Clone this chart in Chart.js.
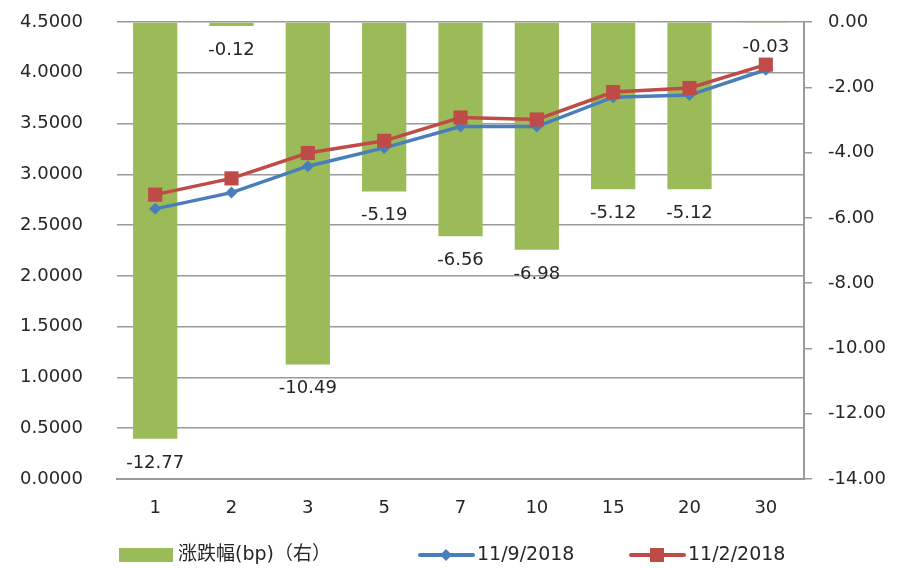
<!DOCTYPE html>
<html>
<head>
<meta charset="utf-8">
<script src="https://cdn.jsdelivr.net/npm/chart.js@4.4.1/dist/chart.umd.min.js"></script>
<style>
    html, body { margin: 0; padding: 0; background: #fff; }
    #wrap { width: 902px; height: 568px; position: relative; }
</style>
</head>
<body>
<div id="wrap"><canvas id="chart"></canvas></div>
<script>
// 期限 (年)
const categories = ['1', '2', '3', '5', '7', '10', '15', '20', '30'];
// 涨跌幅 (bp), 右轴
const changeBp = [-12.77, -0.12, -10.49, -5.19, -6.56, -6.98, -5.12, -5.12, -0.03];
// 收益率, 左轴
const yield1109 = [2.66, 2.82, 3.08, 3.26, 3.47, 3.47, 3.76, 3.78, 4.03];
const yield1102 = [2.80, 2.96, 3.21, 3.33, 3.56, 3.54, 3.81, 3.85, 4.08];

const labelBar = '涨跌幅(bp)（右）';
const label1109 = '11/9/2018';
const label1102 = '11/2/2018';

const GREEN = '#9BBB59';
const BLUE = '#4A7EBB';
const RED = '#BE4B48';
const GRID = '#9a9a9a';
const TEXT = '#262626';
const FONT = '"DejaVu Sans", "Noto Sans CJK SC", sans-serif';

// value labels under the bar ends
const barLabels = {
    id: 'barLabels',
    afterDatasetsDraw(chart) {
        const ctx = chart.ctx;
        const meta = chart.getDatasetMeta(0);
        ctx.save();
        ctx.font = '18px ' + FONT;
        ctx.fillStyle = TEXT;
        ctx.textAlign = 'center';
        ctx.textBaseline = 'middle';
        meta.data.forEach((el, i) => {
            ctx.fillText(changeBp[i].toFixed(2), el.x, el.y + 24);
        });
        ctx.restore();
    }
};

// excel style legend: box / line with marker, then the text
const bottomLegend = {
    id: 'bottomLegend',
    afterDraw(chart) {
        const ctx = chart.ctx;
        const y = 555;
        const items = [
            { x: 119, ds: chart.data.datasets[0], kind: 'box' },
            { x: 418, ds: chart.data.datasets[1], kind: 'diamond' },
            { x: 629, ds: chart.data.datasets[2], kind: 'square' }
        ];
        ctx.save();
        items.forEach(it => {
            const c = it.kind === 'box' ? it.ds.backgroundColor : it.ds.borderColor;
            ctx.fillStyle = c;
            ctx.strokeStyle = c;
            if (it.kind === 'box') {
                ctx.fillRect(it.x, y - 7, 54, 14);
            } else {
                ctx.lineWidth = 4;
                ctx.lineCap = 'round';
                ctx.beginPath(); ctx.moveTo(it.x + 2, y); ctx.lineTo(it.x + 55, y); ctx.stroke();
                const cx = it.x + 28;
                ctx.beginPath();
                if (it.kind === 'diamond') {
                    ctx.moveTo(cx, y - 6); ctx.lineTo(cx + 6, y); ctx.lineTo(cx, y + 6); ctx.lineTo(cx - 6, y);
                } else {
                    ctx.rect(cx - 7, y - 7, 14, 14);
                }
                ctx.closePath(); ctx.fill();
            }
            ctx.fillStyle = TEXT;
            ctx.font = '19px ' + FONT;
            ctx.textAlign = 'left';
            ctx.textBaseline = 'middle';
            ctx.fillText(it.ds.label, it.x + (it.kind === 'box' ? 59 : 59), y);
        });
        ctx.restore();
    }
};

const ctx = document.getElementById('chart').getContext('2d');
new Chart(ctx, {
    data: {
        labels: categories,
        datasets: [{
            type: 'bar',
            label: labelBar,
            data: changeBp,
            yAxisID: 'yRight',
            backgroundColor: GREEN,
            barPercentage: 0.58,
            categoryPercentage: 1,
            order: 3
        }, {
            type: 'line',
            label: label1109,
            data: yield1109,
            yAxisID: 'yLeft',
            borderColor: BLUE,
            backgroundColor: BLUE,
            borderWidth: 3.5,
            pointStyle: 'rectRot',
            pointRadius: 6,
            pointBorderWidth: 0,
            tension: 0,
            order: 2
        }, {
            type: 'line',
            label: label1102,
            data: yield1102,
            yAxisID: 'yLeft',
            borderColor: RED,
            backgroundColor: RED,
            borderWidth: 3.5,
            pointStyle: 'rect',
            pointRadius: 10,
            pointBorderWidth: 0,
            tension: 0,
            order: 1
        }]
    },
    options: {
        responsive: true,
        maintainAspectRatio: false,
        animation: false,
        layout: { padding: { top: 22, left: 0, right: 0, bottom: 0 } },
        plugins: {
            tooltip: { enabled: false },
            legend: { display: false }
        },
        scales: {
            x: {
                grid: { display: false },
                border: { display: true, color: GRID, width: 2 },
                ticks: { color: TEXT, padding: 11, font: { size: 18, family: FONT } },
                afterFit(scale) { scale.height = 89; }
            },
            yLeft: {
                position: 'left',
                min: 0,
                max: 4.5,
                ticks: {
                    stepSize: 0.5,
                    padding: 34,
                    color: TEXT,
                    font: { size: 18, family: FONT },
                    callback: v => Number(v).toFixed(4)
                },
                grid: { color: GRID, lineWidth: 1.5, drawTicks: false },
                border: { display: false },
                afterFit(scale) { scale.width = 117; scale.paddingTop = 10; scale.paddingBottom = 10; }
            },
            yRight: {
                position: 'right',
                min: -14,
                max: 0,
                ticks: {
                    stepSize: 2,
                    padding: 16,
                    color: TEXT,
                    font: { size: 18, family: FONT },
                    callback: v => Number(v).toFixed(2)
                },
                grid: { drawOnChartArea: false, color: GRID, lineWidth: 1.5, tickLength: 8 },
                border: { display: true, color: GRID, width: 2 },
                afterFit(scale) { scale.width = 98; scale.paddingTop = 10; scale.paddingBottom = 10; }
            }
        }
    },
    plugins: [barLabels, bottomLegend]
});
</script>
</body>
</html>
